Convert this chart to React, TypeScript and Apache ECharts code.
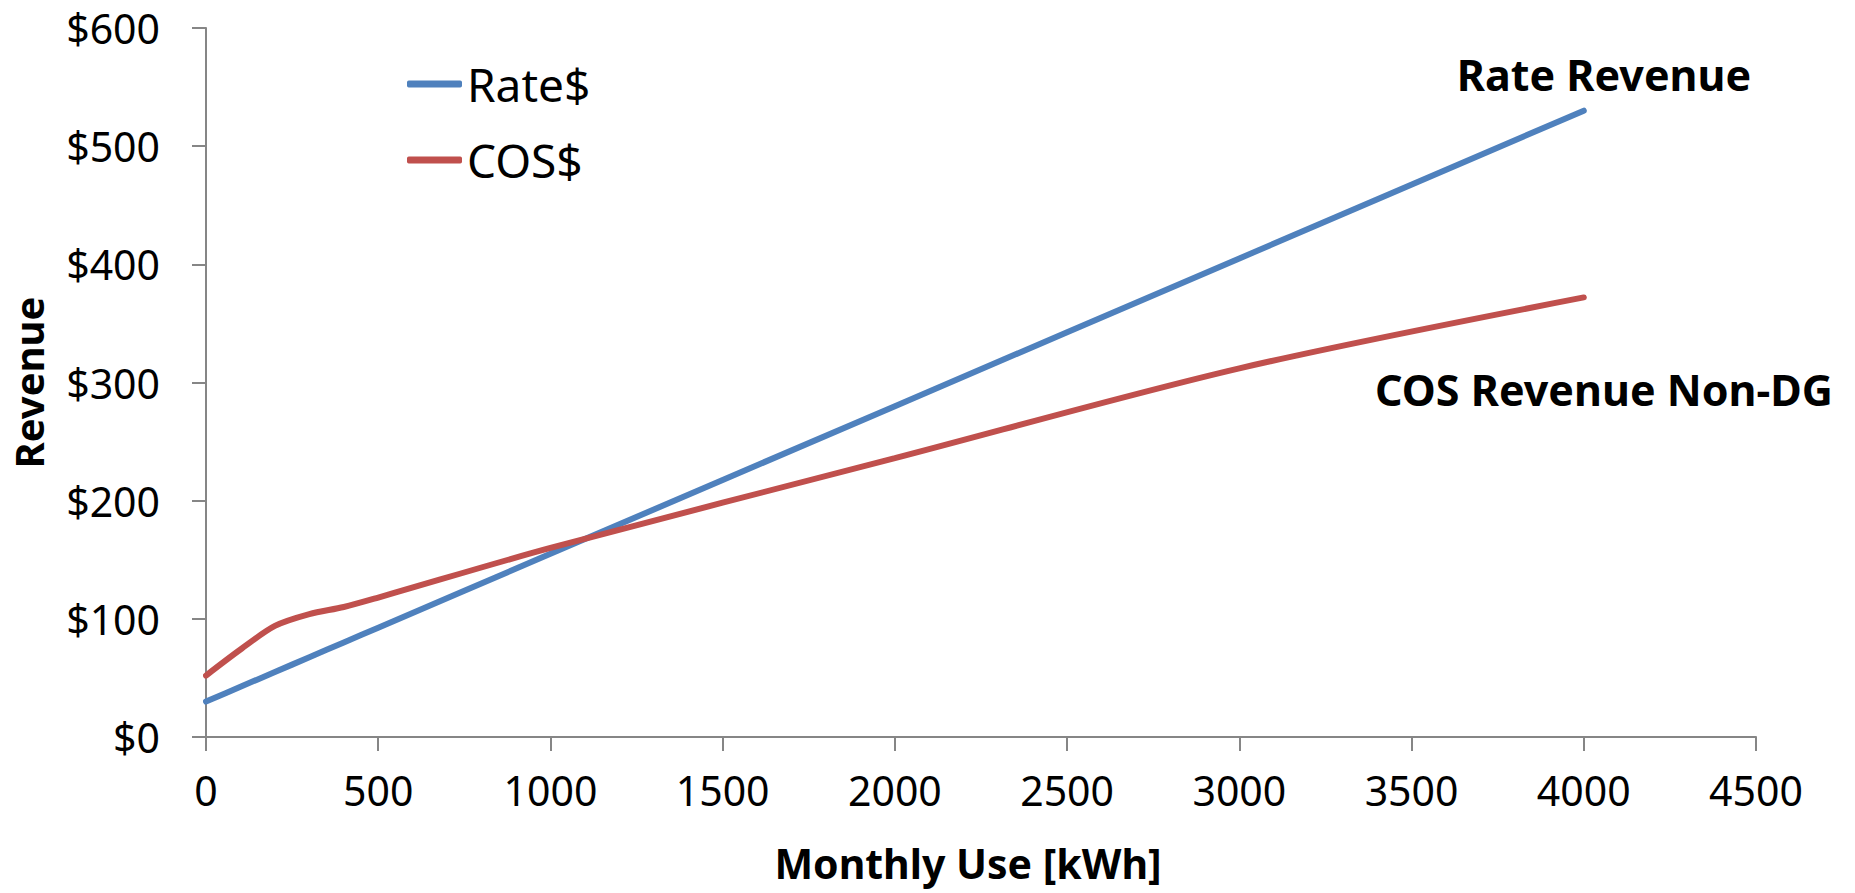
import React, { useEffect, useRef } from "react";
import * as echarts from "echarts";

const usage = [0, 100, 200, 300, 400, 500, 1000, 2000, 3000, 4000];
const rateRevenue = [30, 42.5, 55, 67.5, 80, 92.5, 155, 280, 405, 530];
const cosRevenue = [52, 74, 94, 104, 110, 118, 160, 236, 312, 372];
const seriesNames = ["Rate$", "COS$"];
const annotations = ["Rate Revenue", "COS Revenue Non-DG"];

const FONT = "'Noto Sans', 'Open Sans', sans-serif";

export default function App() {
  const ref = useRef<HTMLDivElement>(null);
  useEffect(() => {
    if (!ref.current) return;
    const chart = echarts.init(ref.current, undefined, { renderer: "svg" });
    const axisGray = "#868686";
    chart.setOption({
      animation: false,
      backgroundColor: "#ffffff",
      textStyle: { fontFamily: FONT },
      grid: { left: 206, right: 99, top: 28, bottom: 156, containLabel: false },
      legend: {
        orient: "vertical",
        left: 402,
        top: 54,
        itemWidth: 55,
        itemHeight: 7,
        itemGap: 26,
        icon: "roundRect",
        data: seriesNames,
        textStyle: { fontSize: 46, color: "#000", fontFamily: FONT, lineHeight: 50 },
      },
      xAxis: {
        type: "value",
        min: 0,
        max: 4500,
        interval: 500,
        name: "Monthly Use [kWh]",
        nameLocation: "middle",
        nameGap: 105,
        nameTextStyle: {
          fontSize: 41,
          fontWeight: "bold",
          color: "#000",
          fontFamily: FONT,
          padding: [0, 26, 0, 0],
        },
        axisLine: { show: true, lineStyle: { color: axisGray, width: 2 } },
        axisTick: { show: true, length: 14, lineStyle: { color: axisGray, width: 2 } },
        axisLabel: {
          fontSize: 41,
          color: "#000",
          margin: 32,
          fontFamily: FONT,
          formatter: (v: number) => String(v),
        },
        splitLine: { show: false },
      },
      yAxis: {
        type: "value",
        min: 0,
        max: 600,
        interval: 100,
        name: "Revenue",
        nameLocation: "middle",
        nameRotate: 90,
        nameGap: 158,
        nameTextStyle: { fontSize: 40, fontWeight: "bold", color: "#000", fontFamily: FONT },
        axisLine: { show: true, lineStyle: { color: axisGray, width: 2 } },
        axisTick: { show: true, length: 14, lineStyle: { color: axisGray, width: 2 } },
        axisLabel: {
          fontSize: 41,
          color: "#000",
          margin: 46,
          fontFamily: FONT,
          formatter: (v: number) => "$" + v,
        },
        splitLine: { show: false },
      },
      series: [
        {
          name: seriesNames[0],
          type: "line",
          data: usage.map((x, i) => [x, rateRevenue[i]]),
          symbol: "none",
          smooth: 0.3,
          color: "#4F81BD",
          lineStyle: { width: 6, color: "#4F81BD", cap: "round" },
        },
        {
          name: seriesNames[1],
          type: "line",
          data: usage.map((x, i) => [x, cosRevenue[i]]),
          symbol: "none",
          smooth: 0.3,
          color: "#C0504D",
          lineStyle: { width: 6, color: "#C0504D", cap: "round" },
        },
      ],
      graphic: [
        {
          type: "text",
          x: 1604,
          y: 74,
          style: {
            text: annotations[0],
            fontSize: 43,
            fontWeight: "bold",
            fontFamily: FONT,
            fill: "#000",
            align: "center",
            verticalAlign: "middle",
          },
        },
        {
          type: "text",
          x: 1604,
          y: 389,
          style: {
            text: annotations[1],
            fontSize: 43,
            fontWeight: "bold",
            fontFamily: FONT,
            fill: "#000",
            align: "center",
            verticalAlign: "middle",
          },
        },
      ],
    });
    return () => chart.dispose();
  }, []);
  return (
    <div
      ref={ref}
      style={{ position: "fixed", left: 0, top: 0, width: 1855, height: 893, background: "#fff" }}
    />
  );
}
